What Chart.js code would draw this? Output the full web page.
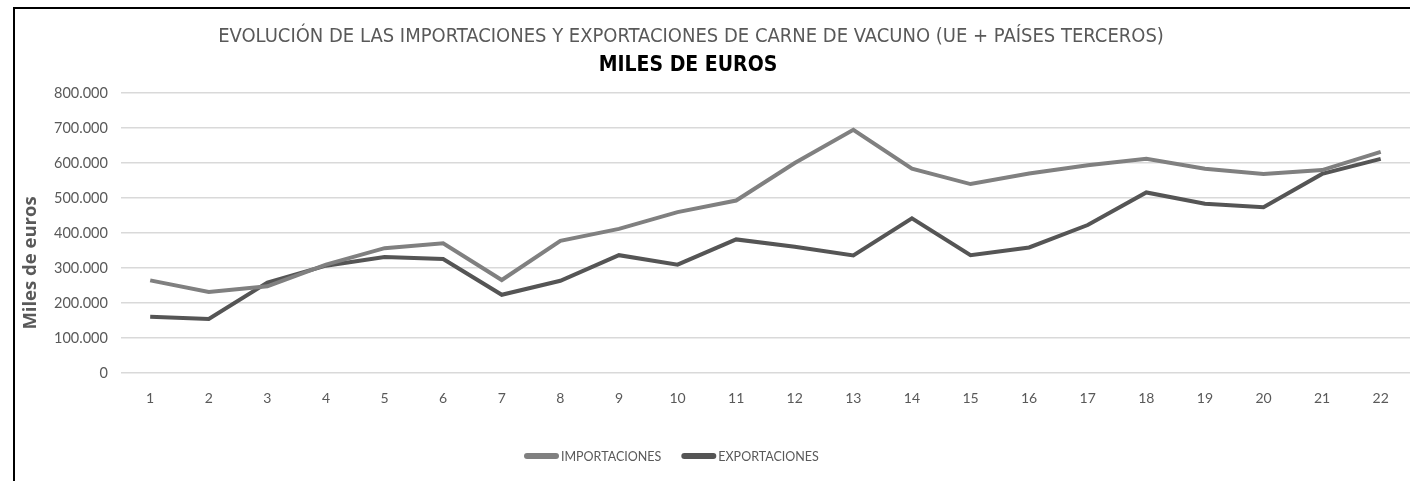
<!DOCTYPE html>
<html>
<head>
<meta charset="utf-8">
<script src="https://cdn.jsdelivr.net/npm/chart.js@4.4.0/dist/chart.umd.min.js"></script>
<style>
  html, body { margin: 0; padding: 0; background: #fff; }
  #frame {
    position: absolute; left: 13px; top: 7px; width: 1397px; height: 474px;
    border-left: 2px solid #000; border-top: 2px solid #000;
  }
  #wrap { position: absolute; left: 2px; top: 2px; width: 1393px; height: 470px; }
</style>
</head>
<body>
<div id="frame"><div id="wrap"><canvas id="chart"></canvas></div></div>
<script>
// categories 1..22
const labels = ['1','2','3','4','5','6','7','8','9','10','11','12','13','14','15','16','17','18','19','20','21','22'];

// miles de euros
const importaciones = [265000, 232000, 248000, 310000, 357000, 371000, 266000, 378000, 412000, 460000, 493000, 600000, 695000, 584000, 540000, 570000, 594000, 612000, 584000, 569000, 580000, 632000];
const exportaciones = [161000, 155000, 259000, 307000, 332000, 326000, 224000, 264000, 337000, 310000, 382000, 361000, 336000, 442000, 337000, 359000, 423000, 516000, 484000, 474000, 569000, 612000];

const titleText = 'EVOLUCIÓN DE LAS IMPORTACIONES Y EXPORTACIONES DE CARNE DE VACUNO (UE + PAÍSES TERCEROS)';
const subtitleText = 'MILES DE EUROS';
const yTitleText = 'Miles de euros';

const fmt = v => String(v).replace(/\B(?=(\d{3})+(?!\d))/g, '.');

// titles, axis title and legend are placed off-centre in the original, so draw them here
const textPlugin = {
  id: 'texts',
  afterDraw(chart) {
    const c = chart.ctx;
    c.save();
    c.textAlign = 'center';
    c.textBaseline = 'middle';

    c.fillStyle = '#595959';
    c.font = '20px "DejaVu Sans Condensed", sans-serif';
    c.fillText(titleText, 674, 26);

    c.fillStyle = '#000';
    c.font = 'bold 21px "DejaVu Sans Condensed", sans-serif';
    c.fillText(subtitleText, 671, 55);

    c.save();
    c.translate(14, 252);
    c.rotate(-Math.PI / 2);
    c.fillStyle = '#595959';
    c.font = 'bold 18.5px "Open Sans", sans-serif';
    c.fillText(yTitleText, 0, 0);
    c.restore();

    // legend
    c.textAlign = 'left';
    c.font = '12.5px Lato, sans-serif';
    let x = 507;
    const y = 445;
    chart.data.datasets.forEach(ds => {
      c.fillStyle = ds.borderColor;
      c.beginPath();
      c.roundRect(x, y - 3, 35, 6, 3);
      c.fill();
      x += 37;
      c.fillStyle = '#595959';
      c.fillText(ds.label, x, y + 1);
      x += c.measureText(ds.label).width + 20;
    });
    c.restore();
  }
};

const ctx = document.getElementById('chart').getContext('2d');
new Chart(ctx, {
  type: 'line',
  data: {
    labels,
    datasets: [
      {
        label: 'IMPORTACIONES',
        data: importaciones,
        borderColor: '#808080',
        backgroundColor: '#808080',
        borderWidth: 4,
        pointRadius: 0,
        tension: 0
      },
      {
        label: 'EXPORTACIONES',
        data: exportaciones,
        borderColor: '#555555',
        backgroundColor: '#555555',
        borderWidth: 4,
        pointRadius: 0,
        tension: 0
      }
    ]
  },
  options: {
    responsive: true,
    maintainAspectRatio: false,
    animation: false,
    layout: { padding: { left: 24, right: 0, top: 82, bottom: 57 } },
    plugins: {
      title: { display: false },
      legend: { display: false },
      tooltip: { enabled: false }
    },
    scales: {
      x: {
        offset: true,
        grid: { display: false, drawTicks: false },
        border: { display: false },
        ticks: { color: '#595959', font: { family: 'Lato, sans-serif', size: 14 }, padding: 17, maxRotation: 0 }
      },
      y: {
        min: 0,
        max: 800000,
        grid: { color: '#d9d9d9', lineWidth: 1.5, drawTicks: false },
        border: { display: false },
        ticks: {
          stepSize: 100000,
          color: '#595959',
          font: { family: 'Lato, sans-serif', size: 14.5 },
          padding: 13,
          callback: v => fmt(v)
        }
      }
    }
  },
  plugins: [textPlugin]
});
</script>
</body>
</html>
